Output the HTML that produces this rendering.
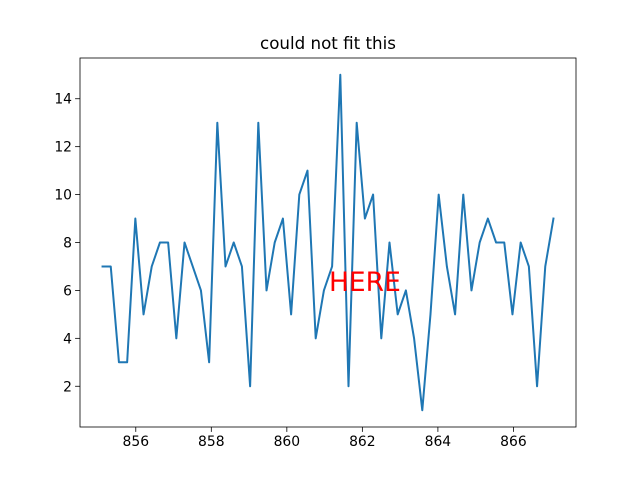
<!DOCTYPE html>
<html><head><meta charset="utf-8"><style>body{margin:0;background:#fff}svg{display:block}text{font-family:"DejaVu Sans","Liberation Sans",sans-serif}</style></head>
<body>
<svg id="chart" width="640" height="480">
<rect x="0" y="0" width="640" height="480" fill="#fff"/>
<text x="328" y="49" text-anchor="middle" font-size="16.7">could not fit this</text>
<g id="plot"></g>
<text x="329" y="291" font-size="26.5" fill="#ff0000">HERE</text>
</svg>
<script>
const values = [7,7,3,3,9,5,7,8,8,4,8,7,6,3,13,7,8,7,2,13,6,8,9,5,10,11,4,6,7,15,2,13,9,10,4,8,5,6,4,1,5,10,7,5,10,6,8,9,8,8,5,8,7,2,7,9];
const xStart = 855.12;
const xEnd = 867.06;
const xTicks = [856,858,860,862,864,866];
const yTicks = [2,4,6,8,10,12,14];

const L=80,R=576,T=58,B=427;
const xs = values.map((v,i)=>xStart+(xEnd-xStart)*i/(values.length-1));
const xmin=Math.min(...xs),xmax=Math.max(...xs),xm=(xmax-xmin)*0.05;
const ymin=Math.min(...values),ymax=Math.max(...values),ym=(ymax-ymin)*0.05;
const X=v=>L+(v-(xmin-xm))/((xmax+xm)-(xmin-xm))*(R-L);
const Y=v=>B-(v-(ymin-ym))/((ymax+ym)-(ymin-ym))*(B-T);
const NS='http://www.w3.org/2000/svg';
const g=document.getElementById('plot');
function mk(tag,attrs){const e=document.createElementNS(NS,tag);for(const k in attrs)e.setAttribute(k,attrs[k]);g.appendChild(e);return e;}

const line=mk('polyline',{points:values.map((v,i)=>X(xs[i]).toFixed(2)+','+Y(v).toFixed(2)).join(' '),fill:'none',stroke:'#1f77b4','stroke-width':2,'stroke-linejoin':'round','stroke-linecap':'square'});



xTicks.forEach(t=>{
  const x=X(t);
  const tk=mk('line',{x1:x,x2:x,y1:B,y2:B+4.9,stroke:'#000','stroke-width':0.8});
  
  
  const lb=mk('text',{x:x,y:B+19,'text-anchor':'middle','font-size':13.9});
  lb.textContent=t;
  
  
});
yTicks.forEach(t=>{
  const y=Y(t);
  const tk=mk('line',{x1:L-4.9,x2:L,y1:y,y2:y,stroke:'#000','stroke-width':0.8});
  
  
  const lb=mk('text',{x:L-8,y:y+5,'text-anchor':'end','font-size':13.9});
  lb.textContent=t;
  
  
});
const fr=mk('rect',{x:L,y:T,width:R-L,height:B-T,fill:'none',stroke:'#000','stroke-width':0.8});


</script>
</body></html>
